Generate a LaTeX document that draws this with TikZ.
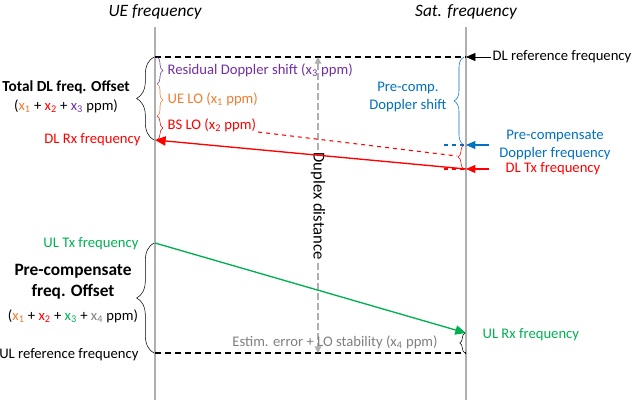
\documentclass[tikz,border=0pt]{standalone}
\usepackage{fontspec}
\setmainfont{Carlito}
\usetikzlibrary{arrows.meta,decorations.pathreplacing}
\definecolor{axisgray}{RGB}{175,175,175}
\definecolor{txtgray}{RGB}{128,128,128}
\definecolor{residpurple}{RGB}{112,48,160}
\definecolor{loorange}{RGB}{237,125,49}
\definecolor{bsred}{RGB}{255,0,0}
\definecolor{compblue}{RGB}{0,112,192}
\definecolor{ulgreen}{RGB}{0,176,80}
\begin{document}
\begin{tikzpicture}
  [x=0.75pt,y=-0.75pt,every node/.style={font=\fontsize{11}{13}\selectfont,inner sep=1pt}]
  \tikzstyle{axis} = [draw=axisgray,line width=0.9pt]
  \tikzstyle{refline} = [draw=black,dash pattern=on 4.5pt off 3pt,line width=0.8pt]
  \tikzstyle{tip} = [-{Triangle[length=7pt,width=6pt]}]
  \tikzstyle{bigtip} = [-{Triangle[length=8pt,width=7pt]}]
  \tikzstyle{bracel} = [decorate,decoration={brace,amplitude=#1}]
  \useasboundingbox (0,0) rectangle (632,400);

  % frequency axes
  \node (ue) at (155,12) {\fontsize{13}{15}\selectfont\itshape UE frequency};
  \node (sat) at (466,12) {\fontsize{13}{15}\selectfont\itshape Sat. frequency};
  \coordinate (ue top) at (155,27);
  \coordinate (ue bot) at (155,400);
  \coordinate (sat top) at (466,27);
  \coordinate (sat bot) at (466,400);
  \draw[axis] (ue top) -- (ue bot);
  \draw[axis] (sat top) -- (sat bot);

  % frequency points
  \coordinate (dlref ue) at (155,57);
  \coordinate (dlref) at (466,57);
  \coordinate (ulref ue) at (155,353);
  \coordinate (ulref) at (466,353);
  \coordinate (dlrx) at (155,140);
  \coordinate (dltx) at (466,169);
  \coordinate (pcomp) at (466,145);
  \coordinate (ultx) at (155,243);
  \coordinate (ulrx) at (466,333);

  % reference levels
  \draw[refline] (dlref ue) -- (dlref);
  \draw[refline] (ulref ue) -- (ulref);

  % duplex distance
  \coordinate (dup top) at (318,57);
  \coordinate (dup bot) at (318,353);
  \draw[draw=axisgray,dash pattern=on 5pt off 2.5pt,line width=0.9pt,
        {Triangle[length=5pt,width=5pt]}-{Triangle[length=5pt,width=5pt]}]
        (dup top) -- (dup bot);
  \node[rotate=-90,fill=white,font=\fontsize{12.5}{14}\selectfont] (duplex) at (318,206) {Duplex distance};

  % downlink
  \node[anchor=west] (dlref lbl) at (491,57) {DL reference frequency};
  \draw[tip] (dlref lbl.west) -- (dlref);
  \node[align=center,text=compblue] (pcomp lbl) at (555,145) {Pre-compensate\\Doppler frequency};
  \coordinate (pcomp in) at (489,145);
  \draw[tip,draw=compblue,fill=compblue,line width=0.8pt] (pcomp in) -- (pcomp);
  \draw[draw=compblue,dashed,line width=0.8pt] (444,145) -- (pcomp);
  \node[text=bsred] (dltx lbl) at (553,169) {DL Tx frequency};
  \coordinate (dltx in) at (489,169);
  \draw[tip,draw=bsred,fill=bsred,line width=0.8pt] (dltx in) -- (dltx);
  \draw[draw=bsred,dashed,line width=0.8pt] (444,169) -- (dltx);
  \draw[bigtip,draw=bsred,fill=bsred,line width=1pt] (dltx) -- (dlrx);
  \node[anchor=east,text=bsred] (dlrx lbl) at (142,140) {DL Rx frequency};
  \coordinate (bs start) at (258,132);
  \coordinate (bs end) at (457,156);
  \draw[draw=bsred,dashed,line width=0.8pt] (bs start) -- (bs end);

  % pre-compensated Doppler shift
  \draw[bracel=7.5pt,draw=compblue] (pcomp) ++(-2,0) -- ++(0,-88);
  \node[align=center,text=compblue] (pcomp shift) at (408,97) {Pre-comp.\\Doppler shift};
  \draw[bracel=4.5pt,draw=bsred] (464,169) -- (464,145);

  % offsets seen at the UE
  \draw[bracel=13pt] (154,140) -- (154,57);
  \node[align=center] (dl offset) at (66,97) {\fontsize{11.5}{14}\selectfont\bfseries Total DL freq. Offset\\[1pt]
    (\textcolor{loorange}{x\textsubscript{1}} + \textcolor{bsred}{x\textsubscript{2}} + \textcolor{residpurple}{x\textsubscript{3}} ppm)};
  \foreach \from/\to/\col in {57/84/residpurple,84/116/loorange,116/140/bsred}
    \draw[bracel=4.5pt,draw=\col] (157,\from) -- (157,\to);
  \node[anchor=west,text=residpurple] (resid) at (166,70) {Residual Doppler shift (x\textsubscript{3} ppm)};
  \node[anchor=west,text=loorange] (uelo) at (166,99) {UE LO (x\textsubscript{1} ppm)};
  \node[anchor=west,text=bsred] (bslo) at (166,125) {BS LO (x\textsubscript{2} ppm)};

  % uplink
  \node[anchor=east,text=ulgreen] (ultx lbl) at (140,244) {UL Tx frequency};
  \draw[bigtip,draw=ulgreen,fill=ulgreen,line width=1pt] (ultx) -- (ulrx);
  \node[anchor=west,text=ulgreen] (ulrx lbl) at (481,335) {UL Rx frequency};
  \node[anchor=east] (ulref lbl) at (140,355) {UL reference frequency};
  \draw[bracel=13pt] (154,353) -- (154,243);
  \node[align=center,font=\fontsize{13}{16}\selectfont\bfseries] (ul offset) at (73,282) {Pre-compensate\\freq. Offset};
  \node[align=center] (ul sum) at (73,316)
    {(\textcolor{loorange}{x\textsubscript{1}} + \textcolor{bsred}{x\textsubscript{2}} + \textcolor{ulgreen}{x\textsubscript{3}} + \textcolor{txtgray}{x\textsubscript{4}} ppm)};
  \draw[bracel=4pt] (465,353) -- (465,333);
  \node[text=txtgray] (estim) at (335,342) {Estim. error + LO stability (x\textsubscript{4} ppm)};
\end{tikzpicture}
\end{document}
